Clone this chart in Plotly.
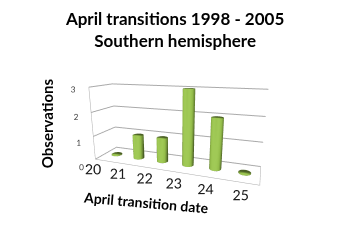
import numpy as np
import plotly.graph_objects as go

dates = [20, 21, 22, 23, 24, 25]
observations = [0, 1, 1, 3, 2, 0]
z_ticks = [0, 1, 2, 3]

title_text = "April transitions 1998 - 2005<br>Southern hemisphere"
x_title = "April transition date"
z_title = "Observations"

DEPTH = 1.44
R = 0.21
N = 48


def cylinder(xc, yc, h, r, n=N):
    h = max(h, 0.02)
    t = np.linspace(0, 2 * np.pi, n, endpoint=False)
    xs = np.concatenate([xc + r * np.cos(t), xc + r * np.cos(t), [xc, xc]])
    ys = np.concatenate([yc + r * np.sin(t), yc + r * np.sin(t), [yc, yc]])
    zs = np.concatenate([np.zeros(n), np.full(n, h), [0, h]])
    I, J, K = [], [], []
    for k in range(n):
        k2 = (k + 1) % n
        I += [k, k2]; J += [k2, n + k2]; K += [n + k, n + k]
        I.append(2 * n); J.append(k2); K.append(k)
        I.append(2 * n + 1); J.append(n + k); K.append(n + k2)
    return xs, ys, zs, I, J, K


fig = go.Figure()
for d, v in zip(dates, observations):
    xs, ys, zs, I, J, K = cylinder(d, DEPTH / 2, v, R)
    fig.add_trace(go.Mesh3d(x=xs, y=ys, z=zs, i=I, j=J, k=K,
                            color="#94bd4a", flatshading=False,
                            lighting=dict(ambient=0.5, diffuse=0.75, specular=0.35, roughness=0.5, fresnel=0.3),
                            lightposition=dict(x=-2000, y=-10000, z=6000),
                            hoverinfo="skip", showscale=False))

grid = "#aaaaaa"
fig.update_layout(
    width=340, height=247,
    margin=dict(l=0, r=0, t=0, b=0),
    paper_bgcolor="white",
    showlegend=False,
    title=dict(text=title_text, x=0.515, xanchor="center", y=0.9, yanchor="top",
               font=dict(family="Lato", size=17, color="#000000", weight="bold")),
    scene=dict(
        domain=dict(x=[0.115, 0.915], y=[0.08, 0.89]),
        aspectmode="manual",
        aspectratio=dict(x=2.4, y=0.58, z=1.1),
        camera=dict(eye=dict(x=1.134, y=-3.13, z=0.89), up=dict(x=0, y=0, z=1),
                    center=dict(x=0, y=0, z=0)),
        xaxis=dict(range=[19.5, 25.5], tickvals=dates, ticktext=[str(d) for d in dates],
                   showgrid=False, showline=True, linecolor=grid, showbackground=False,
                   zeroline=False, title=dict(text=""), ticks="", tickangle=0,
                   tickfont=dict(family="Lato", size=13, color="#1a1a1a"), showspikes=False),
        yaxis=dict(range=[0, DEPTH], showticklabels=False, showgrid=False, showline=True,
                   linecolor=grid, showbackground=False, zeroline=False,
                   title=dict(text=""), ticks="", showspikes=False),
        zaxis=dict(range=[0, 3], tickvals=z_ticks, showgrid=True, gridcolor=grid,
                   showline=True, linecolor=grid, showbackground=False, zeroline=False,
                   title=dict(text=""), ticks="", tickangle=0,
                   tickfont=dict(family="Lato", size=10, color="#404040"), showspikes=False),
    ),
    annotations=[
        dict(text=z_title, x=0.105, y=0.5, xref="paper", yref="paper", showarrow=False,
             textangle=-90, font=dict(family="Lato", size=15, color="#000", weight="bold")),
        dict(text=x_title, x=0.43, y=0.115, xref="paper", yref="paper", showarrow=False,
             textangle=5, font=dict(family="Lato", size=14, color="#000", weight="bold")),
    ],
)

fig.write_html("out.html")
